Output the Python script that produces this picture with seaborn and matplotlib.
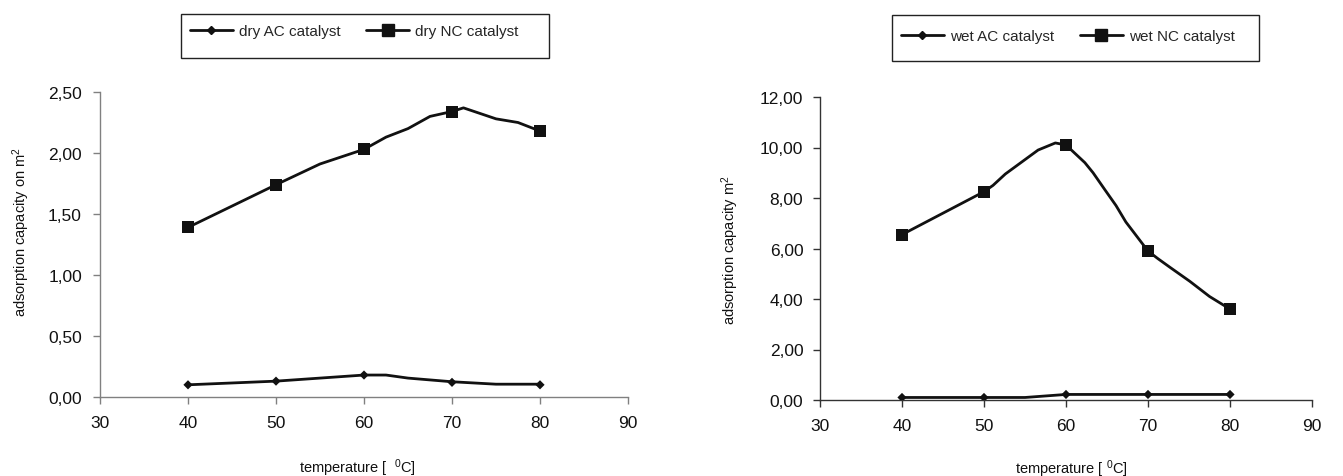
import numpy as np
import pandas as pd
import seaborn as sns
import matplotlib.pyplot as plt
import matplotlib.lines as mlines
from matplotlib.patches import Rectangle
from matplotlib.ticker import FuncFormatter

# measured points (markers)
temps = [40, 50, 60, 70, 80]
dry_ac = [0.10, 0.13, 0.18, 0.12, 0.10]
dry_nc = [1.39, 1.74, 2.03, 2.34, 2.18]
wet_ac = [0.10, 0.10, 0.22, 0.22, 0.22]
wet_nc = [6.55, 8.25, 10.10, 5.90, 3.60]

# smoothed line
dry_nc_curve_t = [40, 50, 55, 60, 62.5, 65, 67.5, 70, 71.3, 75, 77.5, 80]
dry_nc_curve = [1.39, 1.74, 1.91, 2.03, 2.13, 2.20, 2.30, 2.34, 2.37, 2.28, 2.25, 2.18]
dry_ac_curve_t = [40, 50, 60, 62.5, 65, 70, 75, 80]
dry_ac_curve = [0.10, 0.13, 0.18, 0.18, 0.155, 0.125, 0.105, 0.105]
wet_nc_curve_t = [40, 50, 51.1, 52.6, 56.6, 58.7, 60, 62.3, 63.3, 64.8, 66.1, 67.3, 70, 71.2, 72.7, 75.1, 77.5, 80]
wet_nc_curve = [6.55, 8.25, 8.5, 8.95, 9.9, 10.18, 10.1, 9.4, 9.0, 8.3, 7.7, 7.05, 5.9, 5.6, 5.25, 4.7, 4.1, 3.6]
wet_ac_curve_t = [40, 50, 55, 60, 70, 80]
wet_ac_curve = [0.10, 0.10, 0.10, 0.22, 0.22, 0.22]

sns.set_style("white")
plt.rcParams['font.family'] = ['Liberation Sans', 'DejaVu Sans']
plt.rcParams['mathtext.fontset'] = 'custom'
plt.rcParams['mathtext.rm'] = 'Liberation Sans'
plt.rcParams['mathtext.it'] = 'Liberation Sans'

LINE = '#111111'
W, H = 1343, 477
fig = plt.figure(figsize=(W / 100, H / 100), dpi=100)

comma = FuncFormatter(lambda v, p: ("%.2f" % v).replace(".", ","))


def panel(rect, spine_col, ac_t, ac, nc_t, nc, ac_pts, nc_pts, ymax, ystep,
          ylabel, xlabel, ypad, ylab_xy, xlab_xy):
    ax = fig.add_axes(rect)
    sns.lineplot(x=nc_t, y=nc, ax=ax, color=LINE, lw=2, sort=False, estimator=None)
    sns.lineplot(x=ac_t, y=ac, ax=ax, color=LINE, lw=2, sort=False, estimator=None)
    sns.scatterplot(x=temps, y=nc_pts, ax=ax, marker='s', s=75, color=LINE, edgecolor='none', zorder=3)
    sns.scatterplot(x=temps, y=ac_pts, ax=ax, marker='D', s=22, color=LINE, edgecolor='none', zorder=3)
    ax.set_xlim(30, 90)
    ax.set_ylim(0, ymax)
    ax.set_xticks(range(30, 91, 10))
    ax.set_yticks(np.arange(0, ymax + 0.001, ystep))
    ax.yaxis.set_major_formatter(comma)
    sns.despine(ax=ax)
    for s in ['left', 'bottom']:
        ax.spines[s].set_color(spine_col)
        ax.spines[s].set_linewidth(1)
    ax.tick_params(axis='both', which='major', direction='out', length=5, width=1,
                   color=spine_col, labelsize=12.5, labelcolor='#111111')
    ax.tick_params(axis='x', pad=8, bottom=True)
    ax.tick_params(axis='y', pad=ypad, left=True)
    ax.set_xlabel(xlabel, fontsize=10.5, color='#111111', va='top')
    ax.set_ylabel(ylabel, fontsize=10.5, color='#111111', va='bottom')
    ax.xaxis.set_label_coords(*xlab_xy)
    ax.yaxis.set_label_coords(*ylab_xy)
    return ax


ax1 = panel([100 / W, 1 - 398 / H, 528 / W, 305 / H], '#808080',
            dry_ac_curve_t, dry_ac_curve, dry_nc_curve_t, dry_nc_curve, dry_ac, dry_nc,
            2.5, 0.5, "adsorption capacity on m$^2$", "temperature [  $^{0}$C]", 8,
            (-0.128, 0.544), (0.487, -0.195))
ax2 = panel([820 / W, 1 - 401 / H, 492 / W, 303 / H], '#333333',
            wet_ac_curve_t, wet_ac_curve, wet_nc_curve_t, wet_nc_curve, wet_ac, wet_nc,
            12, 2, "adsorption capacity m$^2$", "temperature [ $^{0}$C]", 7,
            (-0.16, 0.498), (0.512, -0.188))


def legend_box(names, x0, y0, bx, by, bw, bh):
    handles = [
        mlines.Line2D([], [], color=LINE, lw=2, marker='D', markersize=4.5, label=names[0]),
        mlines.Line2D([], [], color=LINE, lw=2, marker='s', markersize=8.5, label=names[1]),
    ]
    fig.legend(handles=handles, loc='center left', bbox_to_anchor=(x0 / W, 1 - y0 / H),
               ncol=2, frameon=False, fontsize=11, borderpad=0, borderaxespad=0,
               handlelength=2.8, handletextpad=0.4, columnspacing=1.7)
    fig.add_artist(Rectangle((bx / W, 1 - (by + bh) / H), bw / W, bh / H, transform=fig.transFigure,
                             fill=False, ec='#222222', lw=1))


legend_box(["dry AC catalyst", "dry NC catalyst"], 190, 32, 181, 15, 368, 44)
legend_box(["wet AC catalyst", "wet NC catalyst"], 901, 37, 892, 16, 367, 46)

fig.savefig("out.png", dpi=100)
